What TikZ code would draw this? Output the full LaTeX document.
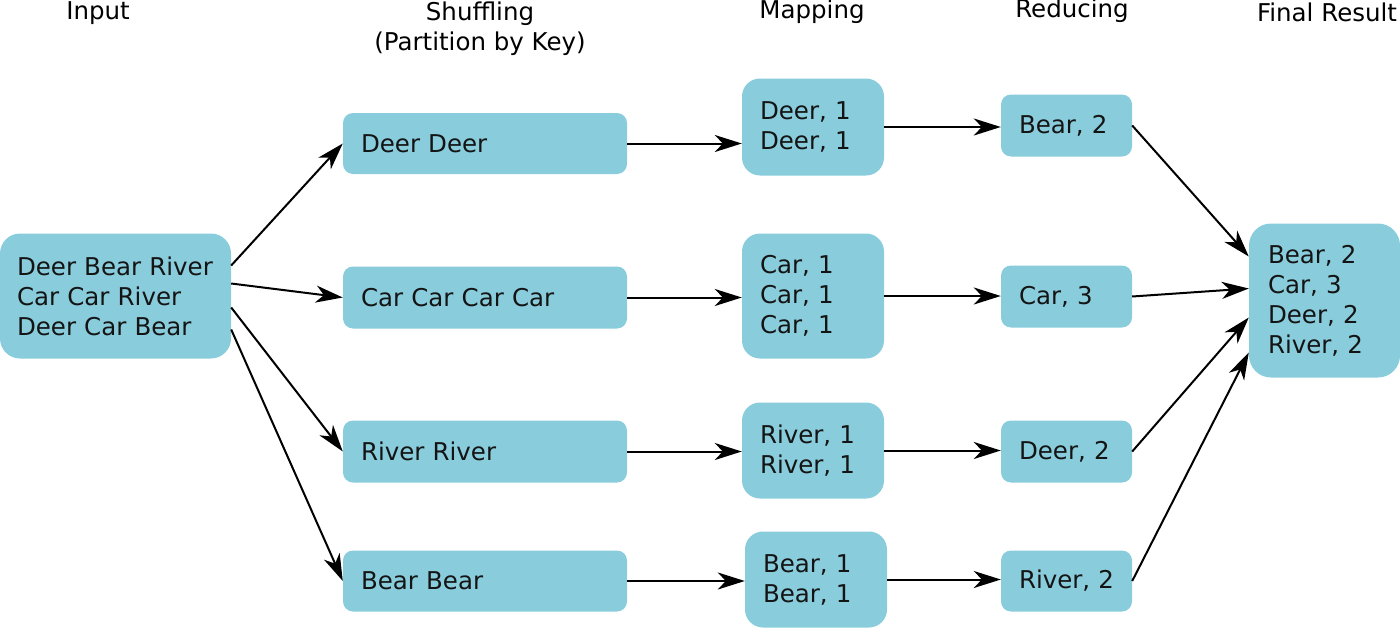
\documentclass[tikz,border=0pt]{standalone}
\usepackage{fontspec}
\setmainfont{DejaVu Sans}
\usetikzlibrary{arrows.meta}
\definecolor{boxc}{RGB}{137,205,221}
\tikzset{
  box/.style={fill=boxc, draw=none, align=left, inner xsep=18pt, inner ysep=0pt,
    font=\fontsize{24.5}{30}\selectfont, text=black!92, anchor=center},
  hdr/.style={font=\fontsize{24.5}{30}\selectfont, align=center, inner sep=0pt, anchor=center},
  conn/.style={line width=2pt, -{Stealth[length=27pt,width=17pt,inset=8pt]}},
}
\begin{document}
\begin{tikzpicture}[x=1pt,y=-1pt]
\path[use as bounding box] (0,0) rectangle (1400,629);
% headers
\node[hdr] (h1) at (98,13) {Input};
\node[hdr] (h2) at (480,14) {Shuffling};
\node[hdr] (h2b) at (480,44) {(Partition by Key)};
\node[hdr] (h3) at (812,12) {Mapping};
\node[hdr] (h4) at (1072,11) {Reducing};
\node[hdr] (h5) at (1327,12) {Final Result};
% input
\node[box, rounded corners=20pt, inner xsep=17pt, text width=197pt, minimum height=125pt] (in) at (115.5,296)
  {\mbox{Deer Bear River}\\\mbox{Car Car River}\\\mbox{Deer Car Bear}};
% shuffling
\node[box, rounded corners=10pt, text width=248pt, minimum height=61pt] (sh1) at (485,143.5) {Deer Deer};
\node[box, rounded corners=10pt, text width=248pt, minimum height=62pt] (sh2) at (485,297.5) {Car Car Car Car};
\node[box, rounded corners=10pt, text width=248pt, minimum height=62pt] (sh3) at (485,451.5) {River River};
\node[box, rounded corners=10pt, text width=248pt, minimum height=61pt] (sh4) at (485,581) {Bear Bear};
% mapping
\node[box, rounded corners=18pt, text width=106pt, minimum height=97pt] (mp1) at (813,127) {\mbox{Deer, 1}\\\mbox{Deer, 1}};
\node[box, rounded corners=18pt, text width=106pt, minimum height=125pt] (mp2) at (813,296) {\mbox{Car, 1}\\\mbox{Car, 1}\\\mbox{Car, 1}};
\node[box, rounded corners=18pt, text width=106pt, minimum height=96pt] (mp3) at (813,450.5) {\mbox{River, 1}\\\mbox{River, 1}};
\node[box, rounded corners=18pt, text width=106pt, minimum height=96pt] (mp4) at (816,579.5) {\mbox{Bear, 1}\\\mbox{Bear, 1}};
% reducing
\node[box, rounded corners=10pt, text width=95pt, minimum height=62pt] (rd1) at (1066.5,125.5) {\mbox{Bear, 2}};
\node[box, rounded corners=10pt, text width=95pt, minimum height=62pt] (rd2) at (1066.5,296.5) {\mbox{Car, 3}};
\node[box, rounded corners=10pt, text width=95pt, minimum height=62pt] (rd3) at (1066.5,451.5) {\mbox{Deer, 2}};
\node[box, rounded corners=10pt, text width=95pt, minimum height=61pt] (rd4) at (1066.5,581) {\mbox{River, 2}};
% final
\node[box, rounded corners=22pt, inner xsep=19pt, text width=113pt, minimum height=154pt] (fin) at (1324.5,300.5)
  {\mbox{Bear, 2}\\\mbox{Car, 3}\\\mbox{Deer, 2}\\\mbox{River, 2}};
% connectors input -> shuffle
\draw[conn] ([yshift=30.5pt]in.east) -- (sh1.west);
\draw[conn] ([yshift=12.5pt]in.east) -- (sh2.west);
\draw[conn] ([yshift=-11.5pt]in.east) -- (sh3.west);
\draw[conn] ([yshift=-33.5pt]in.east) -- (sh4.west);
% shuffle -> mapping, mapping -> reducing
\foreach \i in {1,2,3,4}{
  \draw[conn] (sh\i.east) -- (sh\i.east -| mp\i.west);
  \draw[conn] (mp\i.east) -- (mp\i.east -| rd\i.west);
}
% reduce -> final
\draw[conn] (rd1.east) -- ([yshift=44pt]fin.west);
\draw[conn] (rd2.east) -- ([yshift=12pt]fin.west);
\draw[conn] (rd3.east) -- ([yshift=-17pt]fin.west);
\draw[conn] (rd4.east) -- ([yshift=-52pt]fin.west);
\end{tikzpicture}
\end{document}
